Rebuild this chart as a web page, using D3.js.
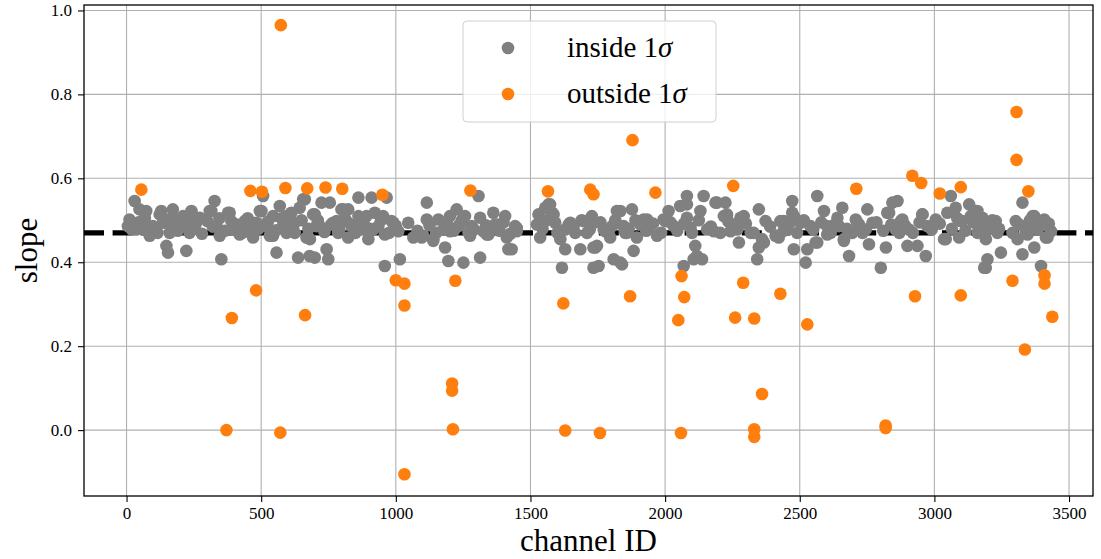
<!DOCTYPE html>
<html>
<head>
<meta charset="utf-8">
<script src="https://cdn.jsdelivr.net/npm/d3@7"></script>
<style>
  body { margin: 0; background: #fff; }
  text { font-family: "Liberation Serif", "DejaVu Serif", serif; fill: #000; }
</style>
</head>
<body>
<div id="chart"></div>
<script>
// slope per channel, split by whether it sits inside 1 sigma of the mean

const xTicks = [0, 500, 1000, 1500, 2000, 2500, 3000, 3500];
const yTicks = [0.0, 0.2, 0.4, 0.6, 0.8, 1.0];
const meanSlope = 0.47;

// [channel, slope]
const insidePoints = [
  [30,0.546],[11,0.502],[11,0.486],[36,0.490],[48,0.526],[73,0.522],[61,0.478],[86,0.463],
  [98,0.486],[129,0.522],[135,0.494],[148,0.439],[154,0.423],[160,0.470],[172,0.526],[185,0.502],
  [197,0.486],[216,0.498],[222,0.427],[234,0.470],[241,0.522],[259,0.494],[272,0.506],[309,0.522],
  [327,0.546],[334,0.486],[346,0.463],[352,0.407],[377,0.518],[389,0.498],[396,0.478],[420,0.466],
  [439,0.498],[457,0.478],[470,0.459],[482,0.494],[501,0.522],[507,0.558],[519,0.486],[532,0.463],
  [544,0.510],[557,0.423],[569,0.534],[581,0.486],[594,0.470],[612,0.518],[619,0.494],[637,0.411],
  [643,0.530],[656,0.550],[668,0.459],[680,0.415],[693,0.514],[699,0.411],[705,0.486],[724,0.542],
  [743,0.431],[749,0.407],[755,0.542],[767,0.494],[786,0.470],[798,0.526],[817,0.498],
  [823,0.526],[836,0.486],[823,0.459],[861,0.554],[861,0.510],[873,0.478],[898,0.455],[910,0.554],
  [922,0.518],[935,0.486],[959,0.391],[966,0.554],[959,0.466],[984,0.498],[1015,0.407],[1009,0.474],
  [1046,0.494],[1065,0.459],[1096,0.459],[1115,0.542],[1115,0.502],[1139,0.455],[1158,0.502],[1177,0.478],
  [1183,0.435],[1195,0.403],[1201,0.510],[1226,0.526],[1232,0.486],[1251,0.399],[1257,0.510],[1270,0.470],
  [1282,0.486],[1307,0.558],[1313,0.506],[1313,0.411],[1325,0.474],[1344,0.466],[1362,0.518],[1368,0.490],
  [1406,0.510],[1412,0.459],[1418,0.431],[1430,0.431],[1443,0.486],[1449,0.474],[1530,0.514],[1536,0.459],
  [1524,0.490],[1555,0.530],[1573,0.538],[1580,0.518],[1592,0.494],[1617,0.387],[1629,0.431],[1629,0.478],
  [1648,0.494],[1666,0.470],[1685,0.431],[1697,0.498],[1710,0.470],[1728,0.510],[1734,0.435],[1734,0.387],
  [1734,0.494],[1747,0.439],[1753,0.391],[1772,0.478],[1796,0.459],[1809,0.407],[1821,0.522],[1840,0.395],
  [1846,0.486],[1852,0.470],[1877,0.526],[1883,0.427],[1895,0.459],[1920,0.502],[1945,0.486],[1970,0.463],
  [1994,0.502],[2013,0.522],[2032,0.486],[2056,0.534],[2081,0.558],[2081,0.506],[2094,0.482],[2112,0.439],
  [2118,0.415],[2131,0.522],[2137,0.407],[2143,0.558],[2156,0.478],[2181,0.474],[2193,0.542],[2218,0.510],
  [2224,0.542],[2243,0.474],[2261,0.490],[2274,0.447],[2292,0.510],[2329,0.470],[2342,0.407],[2348,0.435],
  [2348,0.526],[2360,0.455],[2373,0.498],[2416,0.463],[2428,0.498],[2453,0.478],[2472,0.546],[2472,0.518],
  [2478,0.431],[2503,0.494],[2522,0.399],[2528,0.431],[2540,0.486],[2565,0.558],[2565,0.447],[2590,0.522],
  [2602,0.486],[2640,0.506],
  [2658,0.530],[2646,0.486],[2664,0.451],[2683,0.415],[2708,0.502],[2733,0.470],[2751,0.526],[2757,0.443],
  [2770,0.494],[2801,0.387],[2820,0.435],[2825,0.518],[2844,0.542],[2863,0.546],[2856,0.478],[2881,0.502],
  [2900,0.439],[2906,0.478],[2937,0.439],[2955,0.514],[2968,0.415],[2974,0.486],[3005,0.502],[3042,0.455],
  [3048,0.518],[3061,0.558],[3079,0.530],[3092,0.459],[3104,0.498],[3129,0.538],[3135,0.510],[3154,0.522],
  [3166,0.478],[3178,0.506],[3191,0.455],[3197,0.407],[3191,0.387],[3209,0.486],[3228,0.498],[3234,0.470],
  [3247,0.423],[3302,0.498],[3309,0.455],[3327,0.542],[3327,0.419],[3346,0.482],[3365,0.510],[3371,0.435],
  [3383,0.478],[3396,0.391],[3408,0.502],[3420,0.459],[3433,0.474],
  // second pass, left half
  [5,0.486],[36,0.478],[123,0.514],[154,0.502],[185,0.486],[222,0.498],[241,0.518],[315,0.522],
  [383,0.518],[408,0.478],[445,0.494],[495,0.522],[544,0.463],[594,0.510],[619,0.486],[662,0.550],
  [681,0.455],[699,0.514],[718,0.486],[780,0.498],[805,0.526],[842,0.490],[891,0.510],[916,0.478],
  [953,0.510],[991,0.494],[1102,0.463],[1139,0.451],[1201,0.474],[1238,0.490],[1276,0.463],[1338,0.466],
  [1375,0.490],[1449,0.482],[1542,0.498],[1567,0.538],[1586,0.514],[1611,0.455],[1642,0.490],[1741,0.435],
  [1778,0.474],[1803,0.486],[1834,0.522],[1834,0.399],[1858,0.470],[1908,0.490],[1933,0.502],[2001,0.498],
  [2069,0.391],[2081,0.538],[2106,0.407],[2187,0.542],[2230,0.514],[2280,0.506],[2367,0.447],[2410,0.463],
  // second pass, right half
  [2422,0.459],[2441,0.498],[2478,0.510],[2559,0.447],[2602,0.466],[2664,0.455],[2714,0.494],[2832,0.518],
  [2875,0.498],[2956,0.514],[3036,0.455],[3098,0.498],[3160,0.522],[3172,0.486],[3185,0.387],[3222,0.498],
  [3346,0.466],[3371,0.510],[3414,0.459],
  // dense core around the mean
  [20,0.478],[45,0.495],[68,0.505],[92,0.482],[115,0.470],[140,0.500],[165,0.488],[190,0.475],
  [210,0.510],[230,0.492],[255,0.480],[280,0.468],[300,0.498],[320,0.485],[345,0.505],[365,0.475],
  [410,0.490],[430,0.470],[450,0.505],[490,0.480],[525,0.497],[555,0.476],[575,0.505],[600,0.485],
  [625,0.470],[650,0.500],[675,0.480],[710,0.500],[735,0.472],[760,0.490],[790,0.478],[810,0.505],
  [850,0.470],[880,0.495],[905,0.480],[945,0.500],[975,0.470],[1000,0.487],[1080,0.475],[1125,0.488],
  [1150,0.470],[1190,0.492],[1215,0.475],[1245,0.500],[1290,0.478],[1335,0.488],[1385,0.475],[1400,0.495],
  [1425,0.468],[1545,0.480],[1560,0.500],[1600,0.470],[1660,0.485],[1690,0.500],[1720,0.478],[1760,0.495],
  [1790,0.470],[1815,0.500],[1865,0.480],[1890,0.500],[1930,0.475],[1955,0.492],[1985,0.470],[2020,0.495],
  [2045,0.475],[2070,0.492],[2100,0.470],[2125,0.500],[2170,0.485],[2205,0.470],[2235,0.497],[2268,0.478],
  [2300,0.492],[2318,0.470],[2390,0.485],[2440,0.475],[2465,0.495],[2490,0.470],[2515,0.500],[2550,0.478],
  [2580,0.495],[2615,0.470],[2630,0.490],[2675,0.480],[2695,0.470],[2720,0.490],[2745,0.478],[2785,0.495],
  [2810,0.475],[2840,0.490],[2870,0.470],[2890,0.488],[2920,0.470],[2945,0.495],[2990,0.478],[3020,0.492],
  [3065,0.480],[3085,0.505],[3115,0.475],[3145,0.495],[3160,0.470],[3200,0.478],[3215,0.500],[3240,0.480],
  [3290,0.470],[3315,0.490],[3340,0.470],[3355,0.500],[3390,0.485],[3425,0.492]
];

const outsidePoints = [
  [55,0.573],[460,0.570],[503,0.568],[590,0.577],[671,0.576],[739,0.578],[801,0.575],[950,0.561],
  [1277,0.571],[1565,0.569],[1722,0.573],[1734,0.562],[1964,0.566],[2253,0.582],[2710,0.575],[2918,0.606],
  [2951,0.589],[3020,0.564],[3098,0.579],[3305,0.758],[3305,0.644],[3349,0.569],[573,0.965],[1879,0.691],
  [391,0.267],[481,0.333],[663,0.274],[1000,0.357],[1032,0.349],[1032,0.297],[1221,0.356],[1622,0.302],
  [1870,0.319],[2061,0.367],[2071,0.317],[2049,0.262],[2290,0.351],[2260,0.268],[2331,0.266],[2428,0.325],
  [2528,0.252],[2928,0.319],[3098,0.321],[3290,0.356],[3409,0.369],[3409,0.349],[3438,0.270],[3336,0.192],
  [1209,0.111],[1209,0.094],[2360,0.086],[371,0.0],[571,-0.006],[1212,0.002],[1629,-0.001],[1758,-0.007],
  [2059,-0.007],[2331,0.002],[2331,-0.016],[2819,0.011],[2819,0.005],[1032,-0.105]
];

const width = 1101;
const height = 559;
const margin = { top: 5, right: 8, bottom: 63, left: 84 };

const svg = d3.select("#chart")
  .append("svg")
  .attr("width", width)
  .attr("height", height);

svg.append("rect").attr("width", width).attr("height", height).attr("fill", "#fff");

const x = d3.scaleLinear()
  .domain([-158, 3589])
  .range([margin.left, width - margin.right]);

const y = d3.scaleLinear()
  .domain([-0.157, 1.013])
  .range([height - margin.bottom, margin.top]);

const plot = svg.append("g");

// grid
plot.append("g").selectAll("line")
  .data(xTicks)
  .join("line")
  .attr("x1", d => x(d)).attr("x2", d => x(d))
  .attr("y1", margin.top).attr("y2", height - margin.bottom)
  .attr("stroke", "#b0b0b0").attr("stroke-width", 1.1);

plot.append("g").selectAll("line")
  .data(yTicks)
  .join("line")
  .attr("x1", margin.left).attr("x2", width - margin.right)
  .attr("y1", d => y(d)).attr("y2", d => y(d))
  .attr("stroke", "#b0b0b0").attr("stroke-width", 1.1);

// mean slope
plot.append("line")
  .attr("x1", margin.left).attr("x2", width - margin.right)
  .attr("y1", y(meanSlope)).attr("y2", y(meanSlope))
  .attr("stroke", "#000")
  .attr("stroke-width", 5.4)
  .attr("stroke-dasharray", "20,8.6");

const r = 6.3;

plot.append("g").selectAll("circle")
  .data(insidePoints)
  .join("circle")
  .attr("cx", d => x(d[0]))
  .attr("cy", d => y(d[1]))
  .attr("r", r)
  .attr("fill", "#808080");

plot.append("g").selectAll("circle")
  .data(outsidePoints)
  .join("circle")
  .attr("cx", d => x(d[0]))
  .attr("cy", d => y(d[1]))
  .attr("r", r)
  .attr("fill", "#ff7f0e");

// axes
const xAxis = svg.append("g")
  .attr("transform", `translate(0,${height - margin.bottom})`)
  .call(d3.axisBottom(x).tickValues(xTicks).tickSize(6).tickPadding(5).tickFormat(d3.format("d")));

const yAxis = svg.append("g")
  .attr("transform", `translate(${margin.left},0)`)
  .call(d3.axisLeft(y).tickValues(yTicks).tickSize(6).tickPadding(6).tickFormat(d3.format(".1f")));

[xAxis, yAxis].forEach(a => {
  a.select(".domain").remove();
  a.selectAll(".tick line").attr("stroke", "#000").attr("stroke-width", 1.1);
  a.selectAll(".tick text")
    .style("font-family", "'Liberation Serif', serif")
    .style("font-size", "17px")
    .attr("fill", "#000");
});

// frame
svg.append("rect")
  .attr("x", margin.left).attr("y", margin.top)
  .attr("width", width - margin.left - margin.right)
  .attr("height", height - margin.top - margin.bottom)
  .attr("fill", "none")
  .attr("stroke", "#000")
  .attr("stroke-width", 1.3);

svg.append("text")
  .attr("x", (margin.left + width - margin.right) / 2)
  .attr("y", 551)
  .attr("text-anchor", "middle")
  .style("font-size", "31px")
  .text("channel ID");

svg.append("text")
  .attr("transform", `translate(37,${(margin.top + height - margin.bottom) / 2}) rotate(-90)`)
  .attr("text-anchor", "middle")
  .style("font-size", "31px")
  .text("slope");

// legend
const legend = svg.append("g");
legend.append("rect")
  .attr("x", 463).attr("y", 21)
  .attr("width", 253).attr("height", 101)
  .attr("rx", 4)
  .attr("fill", "#fff").attr("fill-opacity", 0.8)
  .attr("stroke", "#d0d0d0").attr("stroke-width", 1);

const legendItems = [
  { label: "inside 1", color: "#808080" },
  { label: "outside 1", color: "#ff7f0e" }
];

legendItems.forEach((item, i) => {
  const cy = 48 + i * 46;
  legend.append("circle")
    .attr("cx", 508).attr("cy", cy).attr("r", r)
    .attr("fill", item.color);
  const t = legend.append("text")
    .attr("x", 567).attr("y", cy + 9)
    .style("font-size", "29px");
  t.append("tspan").text(item.label);
  t.append("tspan").style("font-style", "italic").text("σ");
});
</script>
</body>
</html>
